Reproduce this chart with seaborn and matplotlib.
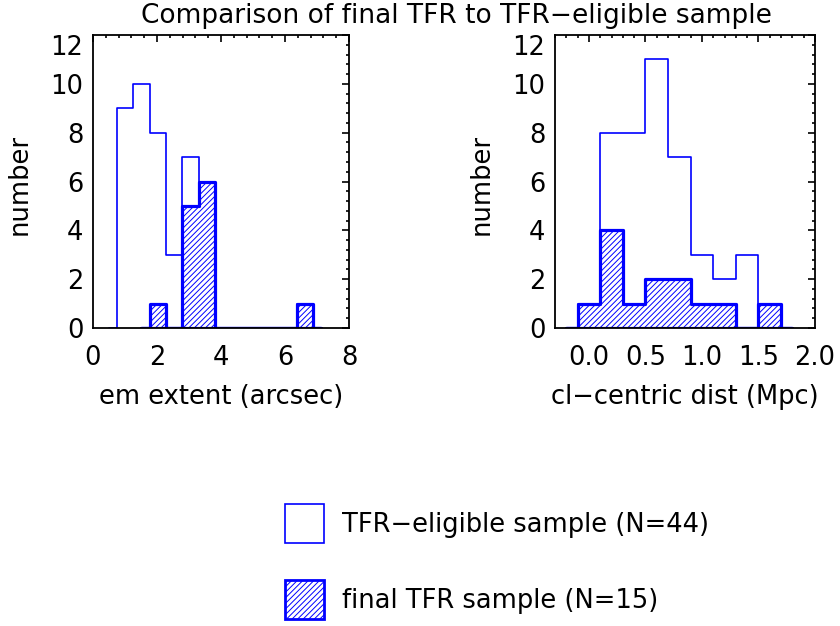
import numpy as np
import pandas as pd
import matplotlib
matplotlib.use("Agg")
import matplotlib.pyplot as plt
from matplotlib.patches import Patch
from matplotlib.ticker import MultipleLocator
import seaborn as sns

# left panel: emission extent (arcsec), bins ~0.51 wide
ext_edges = [0.75, 1.26, 1.77, 2.28, 2.79, 3.30, 3.81, 4.32, 4.83, 5.34, 5.85, 6.36, 6.87]
ext_eligible = [9, 10, 8, 3, 7, 6, 0, 0, 0, 0, 0, 1]
ext_final = [0, 0, 1, 0, 5, 6, 0, 0, 0, 0, 0, 1]

# right panel: cluster-centric distance (Mpc), bins 0.2 wide
dist_edges = [-0.1, 0.1, 0.3, 0.5, 0.7, 0.9, 1.1, 1.3, 1.5, 1.7]
dist_eligible = [1, 8, 8, 11, 7, 3, 2, 3, 1]
dist_final = [1, 4, 1, 2, 2, 1, 1, 0, 1]

title = "Comparison of final TFR to TFR\u2212eligible sample"
label_eligible = "TFR\u2212eligible sample (N=44)"
label_final = "final TFR sample (N=15)"

BLUE = "#0000ff"
FS = 18.5
HATCH = "//////"


def padded(edges, counts):
    # trim empty end bins, then pad half a bin of zero on each side (IDL psym=10 look)
    edges = np.asarray(edges, float)
    counts = np.asarray(counts, float)
    nz = np.nonzero(counts)[0]
    lo, hi = nz[0], nz[-1]
    e = edges[lo:hi + 2]
    c = counts[lo:hi + 1]
    w = e[1] - e[0]
    bins = [e[0] - w / 2] + list(e) + [e[-1] + w / 2]
    df = pd.DataFrame({"x": (e[:-1] + e[1:]) / 2, "w": c})
    return df, bins


def draw_panel(ax, edges, eligible, final, xlim, xmajor, xminor, xlabel, xfmt):
    df, b = padded(edges, eligible)
    sns.histplot(data=df, x="x", weights="w", bins=b, element="step", fill=False,
                 color=BLUE, linewidth=1.2, ax=ax)
    df, b = padded(edges, final)
    sns.histplot(data=df, x="x", weights="w", bins=b, element="step", fill=True,
                 facecolor="white", edgecolor=BLUE, linewidth=2.3,
                 hatch=HATCH, alpha=1, ax=ax)
    ax.set_xlim(*xlim)
    ax.set_ylim(0, 12)
    ax.xaxis.set_major_locator(MultipleLocator(xmajor))
    ax.xaxis.set_minor_locator(MultipleLocator(xminor))
    ax.yaxis.set_major_locator(MultipleLocator(2))
    ax.yaxis.set_minor_locator(MultipleLocator(0.4))
    ax.xaxis.set_major_formatter(xfmt)
    ax.tick_params(which="both", direction="in", top=True, right=True,
                   width=1.2, colors="black", labelsize=FS)
    ax.tick_params(which="major", length=5)
    ax.tick_params(which="minor", length=2.5)
    ax.tick_params(axis="x", pad=12)
    ax.tick_params(axis="y", pad=7)
    for s in ax.spines.values():
        s.set_linewidth(1.3)
        s.set_color("black")
        s.set_visible(True)
    ax.set_xlabel(xlabel, fontsize=FS, color="black")
    ax.set_ylabel("number", fontsize=FS, color="black")
    ax.xaxis.set_label_coords(0.5, -0.19)
    ax.yaxis.set_label_coords(-0.234, 0.49)


sns.set_style("white")
plt.rcParams["font.family"] = ["DejaVu Sans"]
plt.rcParams["text.color"] = "black"
plt.rcParams["hatch.color"] = BLUE
plt.rcParams["hatch.linewidth"] = 0.7

fig = plt.figure(figsize=(8.4, 6.26), dpi=100)
ax1 = fig.add_axes([93 / 840, 1 - 328 / 626, 256 / 840, 293 / 626])
ax2 = fig.add_axes([555 / 840, 1 - 328 / 626, 260 / 840, 293 / 626])

draw_panel(ax1, ext_edges, ext_eligible, ext_final, (0, 8), 2, 0.4,
           "em extent (arcsec)", lambda v, p: f"{v:.0f}")
draw_panel(ax2, dist_edges, dist_eligible, dist_final, (-0.3, 2.0), 0.5, 0.1,
           "cl\u2212centric dist (Mpc)", lambda v, p: f"{v:.1f}")

# IDL drops the top y label below the box edge
fig.canvas.draw()
for ax in (ax1, ax2):
    for t in ax.yaxis.get_major_ticks():
        if abs(t.get_loc() - 12) < 1e-6:
            t.label1.set_verticalalignment("top")

fig.text(456 / 840, 1 - 16 / 626, title, ha="center", va="center",
         fontsize=19, color="black")

handles = [
    Patch(facecolor="white", edgecolor=BLUE, linewidth=1.2),
    Patch(facecolor="white", edgecolor=BLUE, linewidth=2.0, hatch=HATCH),
]
fig.legend(handles, [label_eligible, label_final], loc="upper left",
           bbox_to_anchor=(285 / 840, 1 - 504 / 626), frameon=False,
           fontsize=FS, handlelength=1.52, handleheight=1.95,
           labelspacing=1.45, handletextpad=0.68, borderpad=0, borderaxespad=0,
           labelcolor="black")

fig.savefig("out.png", dpi=100)
